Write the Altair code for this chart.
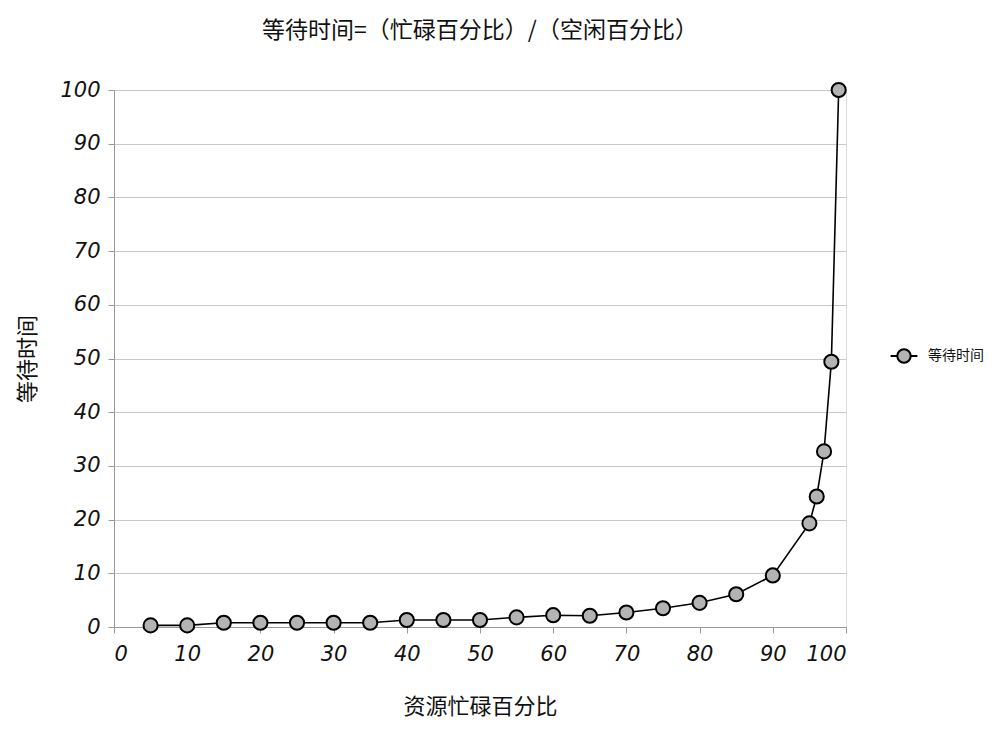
import altair as alt
import pandas as pd

busy = [5, 10, 15, 20, 25, 30, 35, 40, 45, 50, 55, 60, 65, 70, 75, 80, 85, 90, 95, 96, 97, 98, 99]
wait = [0.3, 0.3, 0.8, 0.8, 0.8, 0.8, 0.8, 1.3, 1.3, 1.3, 1.8, 2.2, 2.1, 2.7, 3.5, 4.5, 6.1, 9.6,
        19.3, 24.3, 32.7, 49.4, 100]
series_name = "等待时间"
ticks = [0, 10, 20, 30, 40, 50, 60, 70, 80, 90, 100]

df = pd.DataFrame({"busy": busy, "wait": wait, "series": [series_name] * len(busy)})

num_font = "DejaVu Sans"
cjk_font = "Noto Sans CJK SC"

x = alt.X("busy:Q", scale=alt.Scale(domain=[0, 100], nice=False),
          axis=alt.Axis(values=ticks, title="资源忙碌百分比", grid=False,
                        labelFont=num_font, labelFontStyle="italic", labelFontSize=21,
                        labelColor="#111", labelPadding=10,
                        titleFont=cjk_font, titleFontSize=22, titleFontWeight="normal",
                        titleColor="#111", titlePadding=32,
                        domainColor="#999", tickColor="#999", tickSize=6))
y = alt.Y("wait:Q", scale=alt.Scale(domain=[0, 100], nice=False),
          axis=alt.Axis(values=ticks, title="等待时间", grid=True, gridColor="#c8c8c8",
                        labelFont=num_font, labelFontStyle="italic", labelFontSize=21,
                        labelColor="#111", labelPadding=8,
                        titleFont=cjk_font, titleFontSize=22, titleFontWeight="normal",
                        titleColor="#111", titlePadding=20,
                        domainColor="#999", tickColor="#999", tickSize=6))

line = alt.Chart(df).mark_line(color="black", strokeWidth=1.6).encode(x=x, y=y)

sym = "M-2,0L-1,0M1,0L2,0M-1,0A1,1 0 1,1 1,0A1,1 0 1,1 -1,0Z"
points = alt.Chart(df).mark_point(filled=True, size=200, stroke="black", strokeWidth=2,
                                  opacity=1).encode(
    x=x, y=y,
    fill=alt.Fill("series:N", scale=alt.Scale(domain=[series_name], range=["#b3b3b3"]),
                  legend=alt.Legend(title=None, orient="none", legendX=782, legendY=258,
                                    symbolType=sym, symbolSize=180,
                                    symbolStrokeColor="black", symbolStrokeWidth=2,
                                    labelFont=cjk_font, labelFontSize=14, labelColor="#111",
                                    labelOffset=16))
)

chart = alt.layer(line, points).properties(
    width=732, height=537,
    title=alt.TitleParams("等待时间=（忙碌百分比）/（空闲百分比）", font=cjk_font, fontSize=23,
                          fontWeight="normal", color="#111", offset=36, anchor="middle"),
    autosize=alt.AutoSizeParams(type="none"),
    padding={"left": 114, "top": 90, "right": 154, "bottom": 108},
).configure_view(stroke=None).configure(background="white")

chart.save("out.html", embed_options={"renderer": "svg", "actions": False})
